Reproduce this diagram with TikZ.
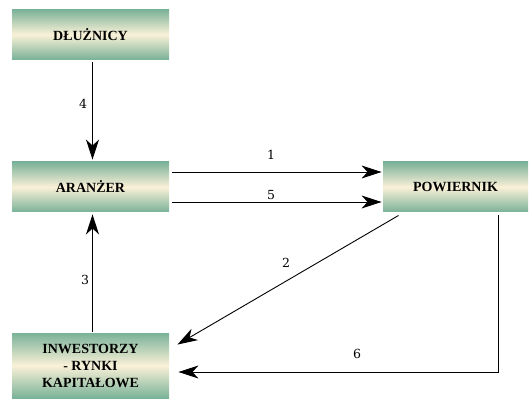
\documentclass[tikz,border=0pt]{standalone}
\usepackage{fontspec}
\setmainfont{Liberation Serif}
\newfontfamily\numfont{DejaVu Serif}
\usetikzlibrary{arrows.meta}
\definecolor{boxgreen}{RGB}{122,178,152}
\definecolor{boxcream}{RGB}{250,241,216}
\begin{document}
\begin{tikzpicture}[x=1pt, y=1pt, line width=0.9pt, >={Stealth[length=20pt, width=13pt, inset=6pt]},
	box/.style={rectangle, minimum width=157pt, minimum height=50pt, inner sep=2pt, align=center,
		top color=boxgreen, bottom color=boxgreen, middle color=boxcream, font=\fontsize{14}{17}\selectfont\bfseries},
	num/.style={font=\numfont\fontsize{12.5}{14}\selectfont, inner sep=0pt}]
		\useasboundingbox (0, 0) rectangle (529, 399);
		\node[box] (dluznicy) at (90.5, 364.5) {DŁUŻNICY};
		\node[box] (aranzer) at (90.5, 212) {ARANŻER};
		\node[box, minimum width=145pt] (powiernik) at (455.5, 212) {POWIERNIK};
		\node[box, minimum height=65pt] (inwestorzy) at (90.5, 33.5) {INWESTORZY\\- RYNKI\\KAPITAŁOWE};
		\node[num] (l4) at (83, 295) {4};
		\node[num] (l1) at (271, 244) {1};
		\node[num] (l5) at (271, 204) {5};
		\node[num] (l3) at (85, 119) {3};
		\node[num] (l2) at (286, 136) {2};
		\node[num] (l6) at (357, 45) {6};
		\draw[->] ([xshift=2pt, yshift=-2pt]dluznicy.south) -- ([xshift=2pt, yshift=2pt]aranzer.north);
		\draw[->] ([xshift=3pt, yshift=15pt]aranzer.east) -- ([xshift=-1pt, yshift=15pt]powiernik.west);
		\draw[->] ([xshift=3pt, yshift=-15pt]aranzer.east) -- ([xshift=-1pt, yshift=-15pt]powiernik.west);
		\draw[->] ([xshift=2pt, yshift=1pt]inwestorzy.north) -- ([xshift=2pt, yshift=-2pt]aranzer.south);
		\draw[->] ([xshift=16pt, yshift=-3pt]powiernik.south west) -- ([xshift=8pt, yshift=-12pt]inwestorzy.north east);
		\draw[->] ([xshift=42.5pt, yshift=-3pt]powiernik.south) |- ([xshift=9pt, yshift=-6.5pt]inwestorzy.east);
	\end{tikzpicture}
\end{document}
